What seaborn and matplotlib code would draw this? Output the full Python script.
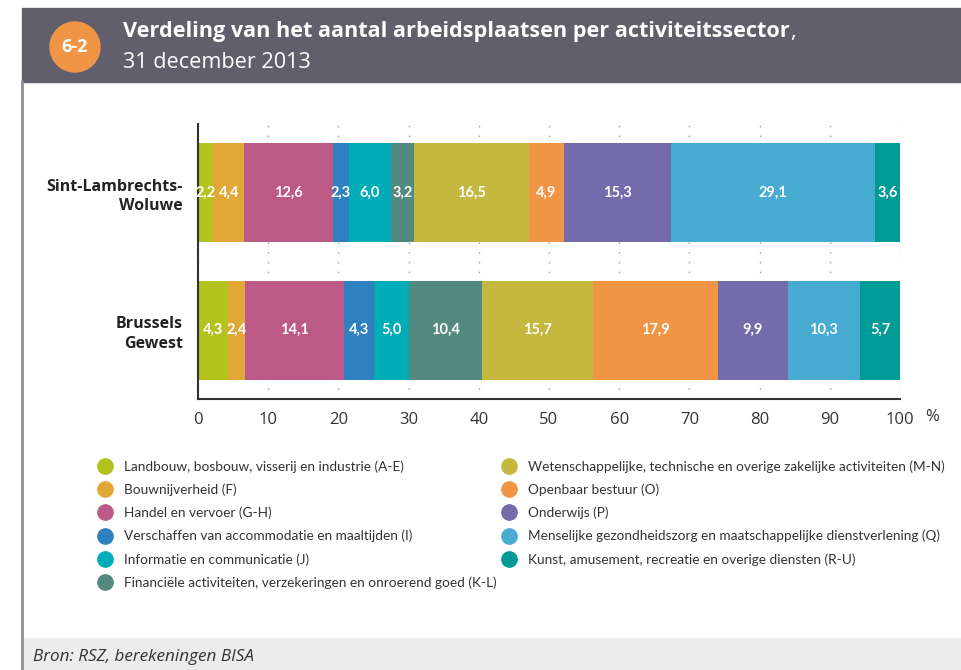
import numpy as np
import pandas as pd
import matplotlib
matplotlib.use("Agg")
import matplotlib.pyplot as plt
import seaborn as sns
from matplotlib.patches import Rectangle, Ellipse
from matplotlib.lines import Line2D

# data
regions = ["Sint-Lambrechts-\nWoluwe", "Brussels\nGewest"]
sectors = [
    "Landbouw, bosbouw, visserij en industrie (A-E)",
    "Bouwnijverheid (F)",
    "Handel en vervoer (G-H)",
    "Verschaffen van accommodatie en maaltijden (I)",
    "Informatie en communicatie (J)",
    "Financiële activiteiten, verzekeringen en onroerend goed (K-L)",
    "Wetenschappelijke, technische en overige zakelijke activiteiten (M-N)",
    "Openbaar bestuur (O)",
    "Onderwijs (P)",
    "Menselijke gezondheidszorg en maatschappelijke dienstverlening (Q)",
    "Kunst, amusement, recreatie en overige diensten (R-U)",
]
slw = [2.2, 4.4, 12.6, 2.3, 6.0, 3.2, 16.5, 4.9, 15.3, 29.1, 3.6]
bru = [4.3, 2.4, 14.1, 4.3, 5.0, 10.4, 15.7, 17.9, 9.9, 10.3, 5.7]
colors = ["#b3c21c", "#e1a737", "#bc5986", "#2f80bf", "#00acb8", "#538a7d",
          "#c4b83e", "#f09545", "#746caa", "#47abd2", "#009a97"]
xticks = [0, 10, 20, 30, 40, 50, 60, 70, 80, 90, 100]

df = pd.DataFrame({"regio": np.repeat(regions, len(sectors)),
                   "sector": sectors * 2,
                   "waarde": slw + bru})
df["cum"] = df.groupby("regio", sort=False)["waarde"].cumsum()

plt.rcParams["font.family"] = ["Open Sans", "DejaVu Sans"]
txt = "#333333"
narrow = ["Lato", "DejaVu Sans"]

fig = plt.figure(figsize=(9.62, 6.70), dpi=100)
W, H = 962, 670

# header band, border and footer
fig.patches.append(Rectangle((22 / W, 1 - 82 / H), 1 - 22 / W, 74 / H,
                             transform=fig.transFigure, color="#625f6c", zorder=0))
fig.patches.append(Rectangle((22 / W, 0), 1 - 22 / W, 32 / H,
                             transform=fig.transFigure, color="#ebeceb", zorder=0))
fig.lines.append(Line2D([22 / W, 22 / W], [0, 1 - 82 / H], transform=fig.transFigure,
                        color="#8f8e96", lw=2))
fig.patches.append(Ellipse((75 / W, 1 - 47 / H), 50 / W, 50 / H,
                           transform=fig.transFigure, color="#f09545", zorder=2))
fig.text(75 / W, 1 - 47 / H, "6-2", color="white", fontsize=13, fontweight="bold",
         ha="center", va="center", zorder=3)
t1 = fig.text(123 / W, 1 - 31 / H, "Verdeling van het aantal arbeidsplaatsen per activiteitssector",
              color="white", fontsize=15.6, fontweight="bold", va="center")
fig.text(123 / W, 1 - 62 / H, "31 december 2013", color="white", fontsize=15.6, va="center")
fig.canvas.draw()
bb = t1.get_window_extent()
fig.text(bb.x1 / W, 1 - 31 / H, ",", color="white", fontsize=15.6, va="center")
fig.text(33 / W, 1 - 657 / H, "Bron: RSZ, berekeningen BISA", color=txt, fontsize=12.3,
         style="italic", va="center")

ax = fig.add_axes([198 / W, 1 - 399 / H, 702 / W, 275 / H])

# stacked bars: draw cumulative totals from last sector to first
for i in range(len(sectors) - 1, -1, -1):
    sub = df[df["sector"] == sectors[i]]
    sns.barplot(data=sub, x="cum", y="regio", order=regions, color=colors[i],
                orient="h", width=0.72, saturation=1, errorbar=None, linewidth=0, ax=ax)

for _, r in df.iterrows():
    yi = regions.index(r["regio"])
    ax.text(r["cum"] - r["waarde"] / 2, yi, f"{r['waarde']:.1f}".replace(".", ","),
            color="white", fontsize=10.5, fontweight="bold", ha="center", va="center",
            family=narrow)

ax.set_xlim(0, 100)
ax.set_xticks(xticks)
ax.set_xticklabels([str(v) for v in xticks])
ax.set_xlabel("")
ax.set_ylabel("")
ax.set_axisbelow(True)
ax.xaxis.grid(True, color="#999999", lw=1, linestyle=(0, (1, 6)))
ax.yaxis.grid(False)
ax.tick_params(axis="both", length=0)
ax.tick_params(axis="x", labelsize=12, labelcolor=txt, pad=9)
ax.tick_params(axis="y", labelsize=11.5, labelcolor="#222222", pad=11)
for lab in ax.get_yticklabels():
    lab.set_fontweight("bold")
    lab.set_multialignment("right")
    lab.set_linespacing(1.3)
for s in ["top", "right"]:
    ax.spines[s].set_visible(False)
for s in ["left", "bottom"]:
    ax.spines[s].set_color("#333333")
    ax.spines[s].set_linewidth(1.5)
fig.text(932 / W, 1 - 417 / H, "%", color=txt, fontsize=12, ha="center", va="center")

# legend in two columns
def handles(idx):
    return [Line2D([], [], marker="o", linestyle="", markersize=11,
                   markerfacecolor=colors[i], markeredgecolor=colors[i]) for i in idx]

left = list(range(6))
right = list(range(6, 11))
for idx, x0 in [(left, 98), (right, 502)]:
    leg = fig.legend(handles(idx), [sectors[i] for i in idx], loc="upper left",
                     bbox_to_anchor=(x0 / W, 1 - 460 / H), frameon=False,
                     prop={"family": narrow, "size": 9.8}, labelcolor=txt,
                     handlelength=1.0, handletextpad=0.9,
                     labelspacing=0.79, borderpad=0, borderaxespad=0)

fig.savefig("out.png", dpi=100)
